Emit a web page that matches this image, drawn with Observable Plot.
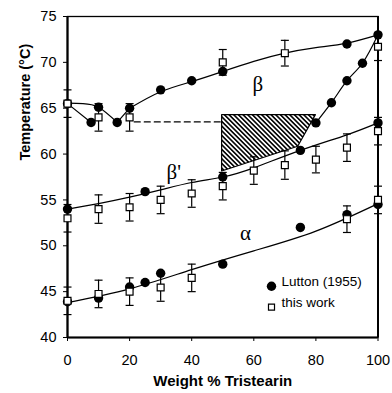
<!DOCTYPE html>
<html>
<head>
<meta charset="utf-8">
<script src="https://cdn.jsdelivr.net/npm/d3@7"></script>
<script src="https://cdn.jsdelivr.net/npm/@observablehq/plot@0.6"></script>
<style>
  html, body { margin: 0; padding: 0; background: white; }
</style>
</head>
<body>
<div id="chart"></div>
<script>
// ---- Tick labels ----
const xTicks = [0, 20, 40, 60, 80, 100];
const yTicks = [40, 45, 50, 55, 60, 65, 70, 75];

// ---- Lutton (1955), filled circles ----
const luttonBetaX = [0, 7.6, 10, 16, 20, 30, 40, 50, 80, 85, 90, 90, 95, 100];
const luttonBetaY = [65.5, 63.45, 65.1, 63.45, 65.0, 67.0, 68.0, 69.0, 63.4, 65.6, 68.0, 72.0, 69.9, 73.0];
const luttonBetaPrimeX = [0, 25, 50, 75, 100];
const luttonBetaPrimeY = [54.0, 55.9, 57.5, 60.4, 63.4];
const luttonAlphaX = [0, 10, 20, 25, 30, 50, 75, 90, 100];
const luttonAlphaY = [43.9, 44.3, 45.5, 46.0, 47.0, 48.0, 52.0, 53.4, 54.5];

// ---- This work, open squares with error bars ----
const workBetaX = [0, 10, 20, 50, 70, 100];
const workBetaY = [65.5, 64.0, 64.0, 70.0, 71.0, 71.7];
const workBetaErr = [1.5, 1.5, 1.5, 1.4, 1.4, 1.5];
const workBetaPrimeX = [0, 10, 20, 30, 40, 50, 60, 70, 80, 90, 100];
const workBetaPrimeY = [53.0, 54.0, 54.2, 55.0, 55.7, 56.5, 58.2, 58.8, 59.4, 60.7, 62.5];
const workBetaPrimeErr = [1.5, 1.55, 1.5, 1.5, 1.5, 1.5, 1.5, 1.55, 1.45, 1.5, 1.5];
const workAlphaX = [0, 10, 20, 30, 40, 90, 100];
const workAlphaY = [44.0, 44.75, 45.0, 45.45, 46.5, 52.9, 55.0];
const workAlphaErr = [1.5, 1.5, 1.5, 1.5, 1.5, 1.45, 1.5];

// ---- Drawn curves ----
const curveAlphaX = [0, 20, 40, 60, 80, 100];
const curveAlphaY = [43.8, 45.3, 47.4, 49.45, 51.6, 54.6];
const curveBetaPrimeX = [0, 10, 20, 30, 40, 50, 60, 75, 90, 100];
const curveBetaPrimeY = [54.0, 54.6, 55.3, 56.1, 56.9, 57.5, 58.5, 60.4, 62.1, 63.4];
const curveBetaTopX = [20, 30, 40, 50, 60, 70, 80, 90, 100];
const curveBetaTopY = [65.0, 66.8, 67.9, 69.0, 70.1, 71.0, 71.6, 72.1, 73.0];
const curveBetaLeftUpperX = [0, 5, 10, 16];
const curveBetaLeftUpperY = [65.55, 65.5, 65.1, 63.45];
const curveBetaLeftLowerX = [0, 7.6];
const curveBetaLeftLowerY = [65.5, 63.45];
const curveBetaKinkX = [16, 20];
const curveBetaKinkY = [63.45, 65.0];
const curveBetaSteepX = [80, 85, 90, 95, 100];
const curveBetaSteepY = [63.4, 65.6, 68.0, 69.9, 73.0];
const dashX = [21.5, 50];
const dashY = [63.5, 63.5];

// ---- Hatched region ----
const hatchX = [49.8, 74.3, 80];
const hatchLow = [58.1, 60.8, 64.25];
const hatchHigh = [64.25, 64.25, 64.25];

// ---- Phase labels ----
const phaseText = ["β", "β'", "α"];
const phaseX = [61.3, 34.2, 57.3];
const phaseY = [67.6, 58.0, 51.4];

const legendLabels = ["Lutton (1955)", "this work"];

const pts = (xs, ys) => xs.map((x, i) => ({x, y: ys[i]}));
const errPts = (xs, ys, es) => xs.map((x, i) => ({x, y: ys[i], e: es[i]}));

const lutton = [
  ...pts(luttonBetaX, luttonBetaY),
  ...pts(luttonBetaPrimeX, luttonBetaPrimeY),
  ...pts(luttonAlphaX, luttonAlphaY)
];
const work = [
  ...errPts(workBetaX, workBetaY, workBetaErr),
  ...errPts(workBetaPrimeX, workBetaPrimeY, workBetaPrimeErr),
  ...errPts(workAlphaX, workAlphaY, workAlphaErr)
];
const caps = work.flatMap(d => [{x: d.x, y: d.y - d.e}, {x: d.x, y: d.y + d.e}]);
const hatch = hatchX.map((x, i) => ({x, y1: hatchLow[i], y2: hatchHigh[i]}));
const phases = phaseText.map((t, i) => ({t, x: phaseX[i], y: phaseY[i]}));

const capSymbol = {
  draw(context, size) {
    const w = Math.sqrt(size / Math.PI);
    context.moveTo(-w, 0);
    context.lineTo(w, 0);
  }
};

const lw = 1.2;
const chart = Plot.plot({
  width: 392,
  height: 393,
  marginLeft: 67,
  marginRight: 14.5,
  marginTop: 16,
  marginBottom: 56,
  x: {domain: [0, 100]},
  y: {domain: [40, 75]},
  style: {fontFamily: "'Liberation Sans', Arial, sans-serif", fontSize: "14.5px", color: "black", background: "white", overflow: "visible"},
  marks: [
    Plot.frame({stroke: "black", strokeWidth: 1.3}),
    Plot.areaY(hatch, {x: "x", y1: "y1", y2: "y2", fill: "url(#hatch)", stroke: "black", strokeWidth: lw, curve: "linear"}),
    Plot.line(pts(dashX, dashY), {x: "x", y: "y", stroke: "black", strokeWidth: lw, strokeDasharray: "6,4"}),
    Plot.line(pts(curveAlphaX, curveAlphaY), {x: "x", y: "y", curve: "natural", strokeWidth: lw}),
    Plot.line(pts(curveBetaPrimeX, curveBetaPrimeY), {x: "x", y: "y", curve: "natural", strokeWidth: lw}),
    Plot.line(pts(curveBetaTopX, curveBetaTopY), {x: "x", y: "y", curve: "natural", strokeWidth: lw}),
    Plot.line(pts(curveBetaLeftUpperX, curveBetaLeftUpperY), {x: "x", y: "y", curve: "natural", strokeWidth: lw}),
    Plot.line(pts(curveBetaLeftLowerX, curveBetaLeftLowerY), {x: "x", y: "y", strokeWidth: lw}),
    Plot.line(pts(curveBetaKinkX, curveBetaKinkY), {x: "x", y: "y", strokeWidth: lw}),
    Plot.line(pts(curveBetaSteepX, curveBetaSteepY), {x: "x", y: "y", curve: "catmull-rom", strokeWidth: lw}),
    Plot.ruleX([0], {stroke: "black", strokeWidth: 2.2}),
    Plot.ruleY([40], {stroke: "black", strokeWidth: 2.2}),
    Plot.ruleX([100], {stroke: "black", strokeWidth: 2}),
    Plot.axisX({ticks: xTicks, tickSize: 4, tickPadding: 13, label: null, fontSize: 14.5}),
    Plot.axisY({ticks: yTicks, tickSize: 4, tickPadding: 7, label: null, fontSize: 14.5}),
    Plot.dot(lutton, {x: "x", y: "y", r: 4.7, fill: "black"}),
    Plot.ruleX(work, {x: "x", y1: d => d.y - d.e, y2: d => d.y + d.e, stroke: "black", strokeWidth: lw}),
    Plot.dot(caps, {x: "x", y: "y", symbol: capSymbol, r: 4, stroke: "black", strokeWidth: lw}),
    Plot.dot(work, {x: "x", y: "y", symbol: "square", r: 3.9, fill: "white", stroke: "black", strokeWidth: lw}),
    Plot.text(phases, {x: "x", y: "y", text: "t", fontSize: 21, fontFamily: "'Liberation Serif', serif"}),
    // legend
    Plot.dot([legendLabels[0]], {frameAnchor: "bottom-right", dx: -106.5, dy: -51.3, r: 4.7, fill: "black"}),
    Plot.dot([legendLabels[1]], {frameAnchor: "bottom-right", dx: -106.5, dy: -30.3, symbol: "square", r: 3.4, fill: "white", stroke: "black", strokeWidth: lw}),
    Plot.text([legendLabels[0]], {frameAnchor: "bottom-right", dx: -96.5, dy: -51.3, text: d => d, textAnchor: "start", fontSize: 13.5}),
    Plot.text([legendLabels[1]], {frameAnchor: "bottom-right", dx: -96.5, dy: -30.3, text: d => d, textAnchor: "start", fontSize: 13.5}),
    // axis titles
    Plot.text(["Weight % Tristearin"], {frameAnchor: "bottom", dy: 48, text: d => d, fontWeight: "bold", fontSize: 15}),
    Plot.text(["Temperature (°C)"], {frameAnchor: "left", dx: -42, dy: -16.5, rotate: -90, text: d => d, fontWeight: "bold", fontSize: 14.5})
  ]
});

d3.select(chart).insert("defs", ":first-child").html(
  '<pattern id="hatch" patternUnits="userSpaceOnUse" width="3.3" height="3.3" patternTransform="rotate(-45)">' +
  '<rect width="3.3" height="3.3" fill="white"/>' +
  '<line x1="1.65" y1="0" x2="1.65" y2="3.3" stroke="black" stroke-width="1.6"/>' +
  '</pattern>'
);

document.getElementById("chart").appendChild(chart);
</script>
</body>
</html>
